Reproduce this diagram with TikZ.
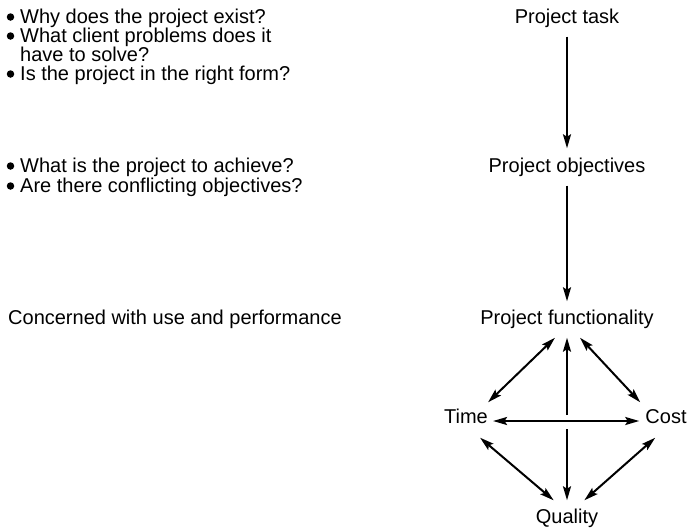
\documentclass[tikz,border=0pt]{standalone}
\usepackage{fontspec}
\setmainfont{Liberation Sans}
\usetikzlibrary{arrows.meta,calc}
\tikzset{
  lbl/.style={font=\fontsize{20}{24}\selectfont, inner sep=0pt, text height=15pt, text depth=4pt},
  dot/.style={circle, fill=black, inner sep=0pt, minimum size=7.5pt},
  hd/.tip={Stealth[length=14pt,width=8pt,inset=2.5pt]},
  tip/.style={-hd, line width=2pt},
  dbl/.style={hd-hd, line width=2pt}
}
\begin{document}
\begin{tikzpicture}[x=1pt,y=-1pt]
\useasboundingbox (0,0) rectangle (689,531);
% left texts
\node[lbl, anchor=west] (q1) at (20,18) {Why does the project exist?};
\node[lbl, anchor=west] (q2) at (20,37) {What client problems does it};
\node[lbl, anchor=west] (q2b) at (20,56) {have to solve?};
\node[lbl, anchor=west] (q3) at (20,75) {Is the project in the right form?};
\node[lbl, anchor=west] (q4) at (20,167) {What is the project to achieve?};
\node[lbl, anchor=west] (q5) at (20,187) {Are there conflicting objectives?};
\node[lbl, anchor=west] (q6) at (8,319) {Concerned with use and performance};
\foreach \n in {q1,q2,q3,q4,q5}
  \node[dot] (b\n) at ($(\n.base west)+(-9.5,-6.5)$) {};
% right chain
\node[lbl] (task) at (567,18) {Project task};
\node[lbl] (obj) at (567,167) {Project objectives};
\node[lbl] (func) at (567,319) {Project functionality};
\node[lbl] (time) at (466,418) {Time};
\node[lbl] (cost) at (666,418) {Cost};
\node[lbl] (qual) at (567,518) {Quality};
\coordinate (mid) at (567,421);
\draw[tip] ($(task.south)+(0,9)$) -- ($(obj.north)+(0,-9)$);
\draw[tip] ($(obj.south)+(0,9)$) -- ($(func.north)+(0,-8)$);
% diamond
\draw[dbl] ($(func.south)+(-12,9)$) -- ($(time.north east)+(0,-6)$);
\draw[dbl] ($(func.south)+(13,9)$) -- ($(cost.north west)+(-5,-6)$);
\draw[tip] ($(mid)+(0,-6)$) -- ($(func.south)+(0,9)$);
\draw[tip] ($(mid)+(0,8)$) -- ($(qual.north)+(0,-8)$);
\draw[dbl] ($(time.east|-mid)+(5,0)$) -- ($(cost.west|-mid)+(-6,0)$);
\draw[dbl] ($(time.south east)+(-8,10)$) -- ($(qual.north west)+(18,-8)$);
\draw[dbl] ($(cost.south west)+(10,10)$) -- ($(qual.north east)+(-14,-8)$);
\end{tikzpicture}
\end{document}
